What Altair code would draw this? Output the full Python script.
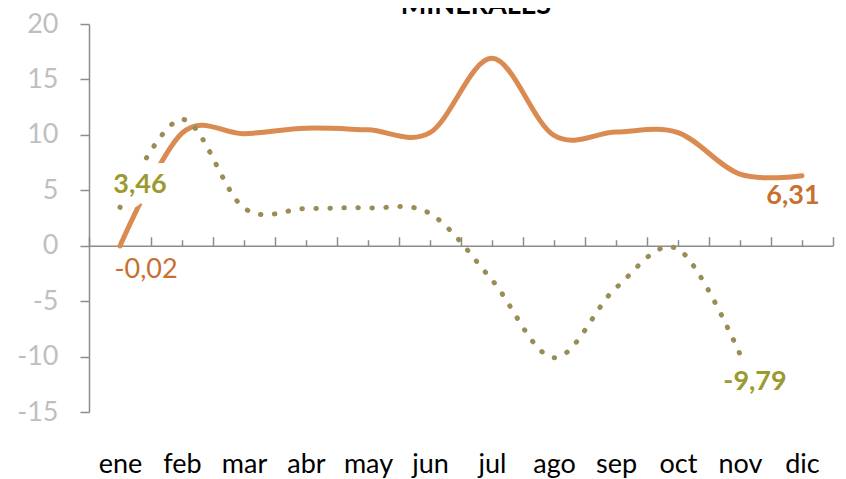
import altair as alt
import pandas as pd

# ---- data ----
months = ["ene", "feb", "mar", "abr", "may", "jun", "jul", "ago", "sep", "oct", "nov", "dic"]
serie_naranja = [-0.02, 10.15, 10.1, 10.6, 10.45, 10.2, 16.9, 9.95, 10.25, 10.2, 6.45, 6.31]
serie_oliva = [3.46, 11.4, 3.4, 3.35, 3.4, 2.9, -3.1, -10.1, -3.8, -0.3, -9.79]
y_ticks = [-15, -10, -5, 0, 5, 10, 15, 20]
titulo = "MINERALES"

# ---- layout / style ----
W, H = 744, 388
YMIN, YMAX = -15, 20
zero_pos = H * YMAX / (YMAX - YMIN)
FONT = "Lato"
FS = 27
ORANGE = "#DA8B52"
ORANGE_TXT = "#C8702F"
OLIVE = "#9A8C55"
OLIVE_TXT = "#9B9A2F"
AXIS_C = "#8C8C8C"


def fmt(v):
    return f"{v:.2f}".replace(".", ",")


df_a = pd.DataFrame({"i": list(range(len(serie_naranja))), "mes": months[:len(serie_naranja)], "v": serie_naranja})
df_a["t"] = df_a["v"].map(fmt)
df_b = pd.DataFrame({"i": list(range(len(serie_oliva))), "mes": months[:len(serie_oliva)], "v": serie_oliva})
df_b["t"] = df_b["v"].map(fmt)

label_expr = "[" + ",".join(f"'{m}'" for m in months) + "][datum.value]"
xscale = alt.Scale(domain=[-0.5, len(months) - 0.5], nice=False, zero=False)
yscale = alt.Scale(domain=[YMIN, YMAX], nice=False, zero=False)

x_bottom = alt.X("i:Q", scale=xscale, title=None,
                 axis=alt.Axis(orient="bottom", values=list(range(len(months))), labelExpr=label_expr,
                               domain=False, ticks=False, tickSize=0, grid=False, labelFlush=False,
                               labelPadding=39, labelFont=FONT, labelFontSize=FS, labelColor="#000000",
                               labelBaseline="top"))
x_major = alt.X("i:Q", scale=xscale, title=None,
                axis=alt.Axis(orient="top", offset=-zero_pos, values=[k - 0.5 for k in range(len(months) + 1)],
                              labels=False, domain=True, domainColor=AXIS_C, domainWidth=1.5,
                              ticks=True, tickSize=9, tickColor=AXIS_C, tickWidth=1.5, grid=False))
x_minor = alt.X("i:Q", scale=xscale, title=None,
                axis=alt.Axis(orient="top", offset=-zero_pos, values=list(range(len(months))),
                              labels=False, domain=False, ticks=True, tickSize=6, tickColor=AXIS_C,
                              tickWidth=1.5, grid=False))
x_none = alt.X("i:Q", scale=xscale, axis=None)

y_axis = alt.Y("v:Q", scale=yscale, title=None,
               axis=alt.Axis(orient="left", values=y_ticks, labelExpr="'' + datum.value", domain=True,
                             domainColor=AXIS_C, domainWidth=1.5, ticks=True, tickSize=9, tickColor=AXIS_C,
                             tickWidth=1.5, grid=False, labelPadding=22, labelFont=FONT, labelFontSize=FS,
                             labelColor="#BFBFBF"))
y_none = alt.Y("v:Q", scale=yscale, axis=None)

line_a = alt.Chart(df_a).mark_line(interpolate="cardinal", tension=0, strokeWidth=5, strokeCap="round",
                                   color=ORANGE).encode(x=x_bottom, y=y_axis, order="i:Q")
line_b = alt.Chart(df_b).mark_line(interpolate="cardinal", tension=0, strokeWidth=5, strokeCap="round",
                                   strokeDash=[0.5, 13.5], color=OLIVE).encode(x=x_major, y=y_none, order="i:Q")

base_b = alt.Chart(df_b)
base_a = alt.Chart(df_a)
first_b = base_b.transform_filter(alt.datum.i == 0)
last_b = base_b.transform_filter(alt.datum.i == len(serie_oliva) - 1)
first_a = base_a.transform_filter(alt.datum.i == 0)
last_a = base_a.transform_filter(alt.datum.i == len(serie_naranja) - 1)

halo_b0 = first_b.mark_text(font=FONT, fontSize=FS, fontWeight="bold", dx=20, dy=-22, color="white",
                            stroke="white", strokeWidth=22, strokeJoin="round").encode(
    x=x_minor, y=y_none, text="t:N")
lab_b0 = first_b.mark_text(font=FONT, fontSize=FS, fontWeight="bold", dx=20, dy=-22, color=OLIVE_TXT).encode(
    x=x_none, y=y_none, text="t:N")
lab_b1 = last_b.mark_text(font=FONT, fontSize=FS, fontWeight="bold", dx=15, dy=28, color=OLIVE_TXT).encode(
    x=x_none, y=y_none, text="t:N")
lab_a0 = first_a.mark_text(font=FONT, fontSize=FS, fontWeight="normal", dx=26, dy=24, color=ORANGE_TXT).encode(
    x=x_none, y=y_none, text="t:N")
lab_a1 = last_a.mark_text(font=FONT, fontSize=FS, fontWeight="bold", dx=-9, dy=20, color=ORANGE_TXT).encode(
    x=x_none, y=y_none, text="t:N")

title_mark = alt.Chart(pd.DataFrame({"t": [titulo]})).mark_text(
    font=FONT, fontSize=FS, fontWeight="bold", color="#000000", align="center", baseline="alphabetic"
).encode(text="t:N", x=alt.value(387), y=alt.value(-10))

chart = alt.layer(line_a, line_b, halo_b0, lab_b0, lab_b1, lab_a0, lab_a1, title_mark).resolve_axis(
    x="independent", y="independent"
).properties(
    width=W, height=H,
    autosize=alt.AutoSizeParams(type="none"),
    padding={"left": 81, "top": 16, "right": 5, "bottom": 66},
).configure_view(stroke=None)

chart.save("out.html", embed_options={"renderer": "svg", "actions": False})
